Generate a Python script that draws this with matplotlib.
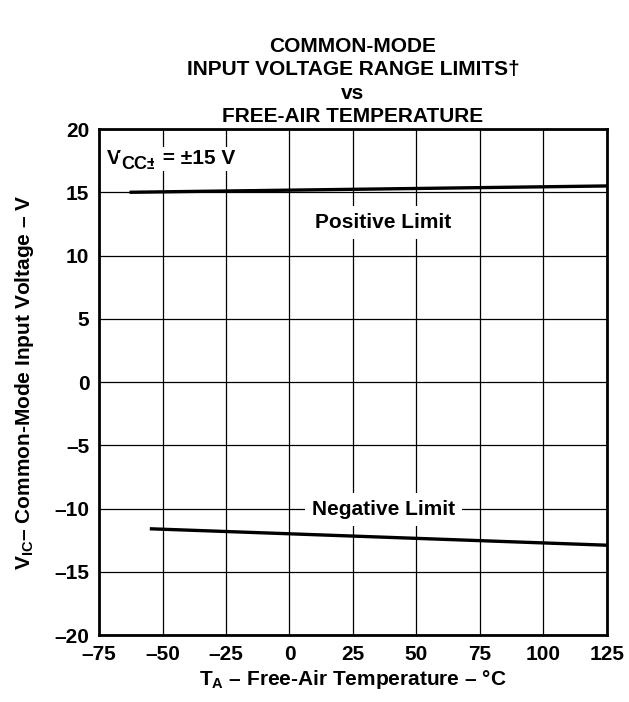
import matplotlib.pyplot as plt
import numpy as np

plt.rcParams['font.family'] = ['Liberation Sans', 'DejaVu Sans']
plt.rcParams['font.weight'] = 'bold'
plt.rcParams['mathtext.fontset'] = 'custom'
plt.rcParams['mathtext.rm'] = 'Liberation Sans:bold'
plt.rcParams['mathtext.it'] = 'Liberation Sans:bold'
plt.rcParams['mathtext.bf'] = 'Liberation Sans:bold'
plt.rcParams['mathtext.default'] = 'rm'

# data
temp_pos = [-63, 125]
v_pos = [15.0, 15.5]
temp_neg = [-55, 125]
v_neg = [-11.6, -12.9]
xticks = [-75, -50, -25, 0, 25, 50, 75, 100, 125]
yticks = [-20, -15, -10, -5, 0, 5, 10, 15, 20]
xtick_labels = ['\u201375', '\u201350', '\u201325', '0', '25', '50', '75', '100', '125']
ytick_labels = ['\u201320', '\u201315', '\u201310', '\u20135', '0', '5', '10', '15', '20']

fs = 15

fig = plt.figure(figsize=(6.29, 7.02), dpi=100)
ax = fig.add_axes([0.1574, 0.0954, 0.8076, 0.7208])

ax.plot(temp_pos, v_pos, color='black', lw=2.4, solid_capstyle='butt')
ax.plot(temp_neg, v_neg, color='black', lw=2.4, solid_capstyle='butt')

ax.set_xlim(-75, 125)
ax.set_ylim(-20, 20)
ax.set_xticks(xticks)
ax.set_xticklabels(xtick_labels)
ax.set_yticks(yticks)
ax.set_yticklabels(ytick_labels)
ax.tick_params(length=0, labelsize=fs, pad=7)
for lab in ax.get_xticklabels() + ax.get_yticklabels():
    lab.set_fontweight('bold')
ax.grid(True, color='black', lw=0.9)
ax.set_axisbelow(True)
for sp in ax.spines.values():
    sp.set_linewidth(2)

box = dict(facecolor='white', edgecolor='none', pad=5)
ax.text(37, 12.6, 'Positive Limit', ha='center', va='center', fontsize=fs,
        fontweight='bold', bbox=box)
ax.text(37, -10.1, 'Negative Limit', ha='center', va='center', fontsize=fs,
        fontweight='bold', bbox=box)

# supply label built from pieces so the subscript stays large
sbox = dict(facecolor='white', edgecolor='none', pad=2)
t1 = ax.text(-72, 16.9, 'V', ha='left', va='bottom', fontsize=fs,
             fontweight='bold', bbox=sbox)
t2 = ax.annotate('CC\u00b1', xy=(1, 0), xycoords=t1, xytext=(0.5, 3),
                 textcoords='offset points', ha='left', va='center',
                 fontsize=13, fontweight='bold', bbox=sbox)
ax.annotate(' = \u00b115 V', xy=(1, 0), xycoords=(t2, t1), ha='left',
            va='bottom', fontsize=fs, fontweight='bold', bbox=sbox)

ax.set_xlabel('T$_A$ \u2013 Free-Air Temperature \u2013 \u00b0C', fontsize=fs,
              fontweight='bold', labelpad=3)
ax.set_ylabel('V$_{IC}$\u2013 Common-Mode Input Voltage \u2013 V', fontsize=fs,
              fontweight='bold', labelpad=13)
ax.set_title('COMMON-MODE\nINPUT VOLTAGE RANGE LIMITS\u2020\nvs\nFREE-AIR TEMPERATURE',
             fontsize=fs, fontweight='bold', linespacing=1.3, pad=5)

fig.savefig('out.png', dpi=100)
